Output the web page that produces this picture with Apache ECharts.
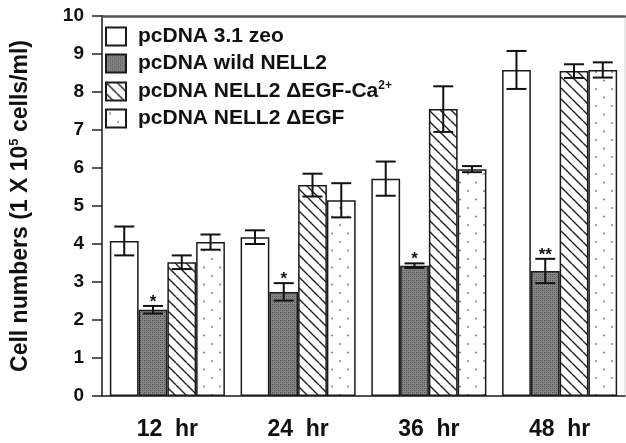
<!DOCTYPE html>
<html>
<head>
<meta charset="utf-8">
<script src="https://cdn.jsdelivr.net/npm/echarts@6/dist/echarts.min.js"></script>
<style>
  html, body { margin: 0; padding: 0; background: #fff; }
  #chart { width: 626px; height: 443px; }
</style>
</head>
<body>
<div id="chart"></div>
<script>
// values (1 x 10^5 cells/ml)
var categories = ['12  hr', '24  hr', '36  hr', '48  hr'];
var seriesNames = ['pcDNA 3.1 zeo', 'pcDNA wild NELL2', 'pcDNA NELL2 \u0394EGF-Ca2+', 'pcDNA NELL2 \u0394EGF'];
var zeo = [4.08, 4.18, 5.72, 8.58];
var zeoErr = [0.38, 0.18, 0.45, 0.5];
var wild = [2.27, 2.74, 3.43, 3.29];
var wildErr = [0.1, 0.23, 0.06, 0.32];
var delCa = [3.52, 5.55, 7.55, 8.55];
var delCaErr = [0.18, 0.3, 0.6, 0.18];
var delEgf = [4.05, 5.15, 5.97, 8.58];
var delEgfErr = [0.2, 0.45, 0.08, 0.2];
var wildStars = ['*', '*', '*', '**'];
var yTicks = [0, 1, 2, 3, 4, 5, 6, 7, 8, 9, 10];

var values = [zeo, wild, delCa, delEgf];
var errs = [zeoErr, wildErr, delCaErr, delEgfErr];
var stars = [null, wildStars, null, null];

// fill patterns
function makeTile(w, h, draw) {
  var c = document.createElement('canvas');
  c.width = w; c.height = h;
  draw(c.getContext('2d'), w, h);
  return { image: c, repeat: 'repeat' };
}
var plainFill = '#ffffff';
var grayFill = makeTile(4, 4, function (g, w, h) {
  g.fillStyle = '#858585'; g.fillRect(0, 0, w, h);
  g.fillStyle = '#505050';
  g.fillRect(0, 0, 1, 1); g.fillRect(2, 2, 1, 1);
  g.fillStyle = '#686868';
  g.fillRect(2, 0, 1, 1); g.fillRect(0, 2, 1, 1);
});
var hatchFill = makeTile(11, 11, function (g, s) {
  g.fillStyle = '#fff'; g.fillRect(0, 0, s, s);
  g.strokeStyle = '#222'; g.lineWidth = 1.4;
  for (var k = -1; k <= 1; k++) {
    g.beginPath(); g.moveTo(0, k * s); g.lineTo(s, s + k * s); g.stroke();
  }
});
var dotFill = makeTile(16, 17, function (g, w, h) {
  g.fillStyle = '#fff'; g.fillRect(0, 0, w, h);
  g.fillStyle = '#8a8a8a';
  g.beginPath(); g.arc(4, 4, 1.1, 0, Math.PI * 2); g.fill();
  g.beginPath(); g.arc(12, 12.5, 1.1, 0, Math.PI * 2); g.fill();
});
var fills = [plainFill, grayFill, hatchFill, dotFill];

var FONT = '"Liberation Sans", Arial, sans-serif';
var GAP = 0.12;

var series = seriesNames.map(function (name, i) {
  return {
    name: name,
    type: 'bar',
    data: values[i],
    barGap: '0%',
    barCategoryGap: (GAP * 100) + '%',
    itemStyle: { color: fills[i], borderColor: '#1a1a1a', borderWidth: 1.5 },
    z: 2
  };
});

// error bars + significance marks
var errData = [];
values.forEach(function (arr, s) {
  arr.forEach(function (v, c) {
    errData.push([c, v, errs[s][c], s, stars[s] ? stars[s][c] : '']);
  });
});
series.push({
  type: 'custom',
  name: 'err',
  data: errData,
  z: 5,
  silent: true,
  renderItem: function (params, api) {
    var c = api.value(0), v = api.value(1), e = api.value(2), s = api.value(3);
    var star = errData[params.dataIndex][4];
    var band = api.size([1, 0])[0];
    var bw = band * (1 - GAP) / 4;
    var top = api.coord([c, v + e]);
    var bot = api.coord([c, v - e]);
    var x = top[0] + (s - 1.5) * bw;
    var half = 10;
    var st = { stroke: '#111', lineWidth: 2 };
    var kids = [
      { type: 'line', shape: { x1: x, y1: top[1], x2: x, y2: bot[1] }, style: st },
      { type: 'line', shape: { x1: x - half, y1: top[1], x2: x + half, y2: top[1] }, style: st },
      { type: 'line', shape: { x1: x - half, y1: bot[1], x2: x + half, y2: bot[1] }, style: st }
    ];
    if (star) {
      kids.push({
        type: 'text',
        style: {
          text: star, x: x, y: top[1] - 4,
          align: 'center', verticalAlign: 'middle',
          font: 'bold 17px ' + FONT, fill: '#111'
        }
      });
    }
    return { type: 'group', children: kids };
  }
});

var chart = echarts.init(document.getElementById('chart'), null, { renderer: 'canvas' });
chart.setOption({
  animation: false,
  backgroundColor: '#fff',
  grid: { left: 97, right: 1, top: 16, bottom: 47, show: true, borderColor: '#d0d0d0', borderWidth: 1 },
  legend: {
    data: seriesNames,
    orient: 'vertical',
    left: 105,
    top: 26,
    padding: 0,
    icon: 'rect',
    itemWidth: 20,
    itemHeight: 18,
    itemGap: 6,
    selectedMode: false,
    formatter: function (n) {
      if (n.indexOf('Ca2+') >= 0) return '{t|' + n.replace('2+', '') + '}{sup|2+}';
      return '{t|' + n + '}';
    },
    textStyle: {
      padding: [0, 0, 0, 7],
      rich: {
        t: { fontFamily: FONT, fontWeight: 'bold', fontSize: 21, lineHeight: 22, color: '#111' },
        sup: { fontFamily: FONT, fontWeight: 'bold', fontSize: 12, color: '#111', verticalAlign: 'bottom', padding: [0, 0, 11, 0] }
      }
    }
  },
  xAxis: [{
    type: 'category',
    data: categories,
    axisLine: { lineStyle: { color: '#222', width: 1.5 } },
    axisTick: { show: false },
    axisLabel: { margin: 22, fontFamily: FONT, fontWeight: 'bold', fontSize: 23, color: '#111' }
  }, {
    type: 'category',
    position: 'top',
    data: categories,
    axisLine: { lineStyle: { color: '#555', width: 2.5 } },
    axisTick: { show: false },
    axisLabel: { show: false }
  }],
  yAxis: {
    type: 'value',
    min: yTicks[0],
    max: yTicks[yTicks.length - 1],
    interval: 1,
    name: '{t|Cell numbers (1 X 10}{sup|5}{t| cells/ml)}',
    nameLocation: 'middle',
    nameRotate: 90,
    nameGap: 69,
    nameTextStyle: {
      rich: {
        t: { fontFamily: FONT, fontWeight: 'bold', fontSize: 23, color: '#111' },
        sup: { fontFamily: FONT, fontWeight: 'bold', fontSize: 13, color: '#111', verticalAlign: 'bottom', padding: [0, 0, 12, 0] }
      }
    },
    splitLine: { show: false },
    axisLine: { show: true, lineStyle: { color: '#222', width: 1.5 } },
    axisTick: { show: true, inside: false, length: 10, lineStyle: { color: '#222', width: 1.5 } },
    axisLabel: { margin: 18, fontFamily: FONT, fontWeight: 'bold', fontSize: 19, color: '#111' }
  },
  series: series
});
</script>
</body>
</html>
